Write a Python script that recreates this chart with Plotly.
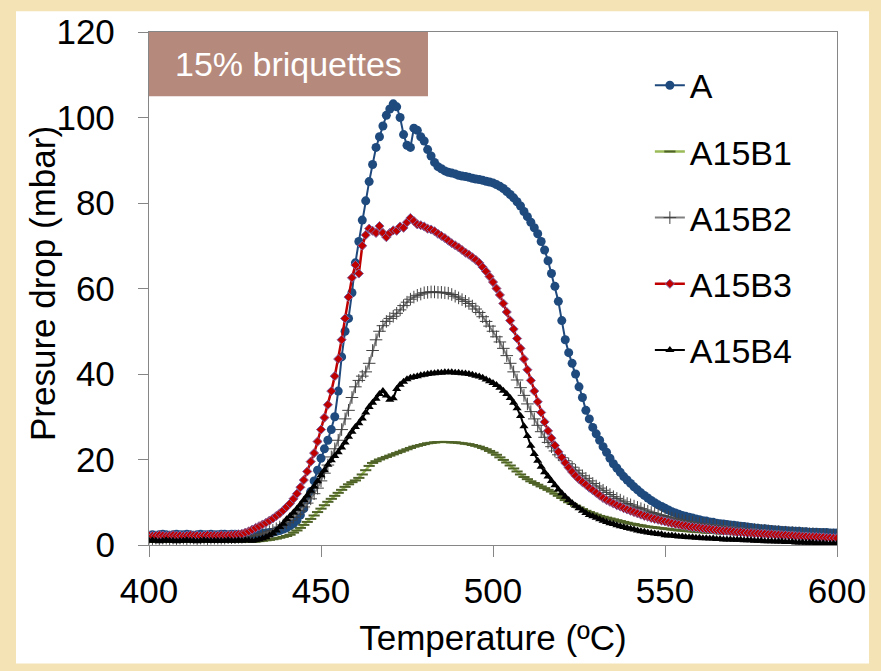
import plotly.graph_objects as go

temperature = list(range(400, 601))

A = [
    2.3, 2.4, 2.3, 2.4, 2.5, 2.4, 2.3, 2.4, 2.5, 2.4,
    2.4, 2.5, 2.4, 2.3, 2.4, 2.5, 2.4, 2.4, 2.5, 2.4,
    2.4, 2.5, 2.5, 2.4, 2.5, 2.5, 2.4, 2.5, 2.5, 2.5,
    2.5, 2.6, 2.6, 2.7, 2.8, 2.9, 3.0, 3.2, 3.4, 3.7,
    4.0, 4.5, 5.0, 5.8, 7.0, 8.5, 10.5, 12.5, 15.0, 17.5,
    20.3, 22.5, 24.5, 27.0, 30.0, 36.0, 44.0, 50.0, 53.0, 59.0,
    66.0, 71.0, 76.0, 80.5, 85.0, 89.0, 93.0, 95.5, 98.0, 100.5,
    102.0, 103.2, 102.5, 100.0, 96.0, 93.5, 93.0, 97.5, 97.0, 95.5,
    94.5, 92.5, 91.0, 89.5, 88.5, 88.0, 87.5, 87.2, 87.0, 86.8,
    86.5, 86.3, 86.2, 86.0, 85.8, 85.6, 85.5, 85.3, 85.1, 84.9,
    84.7, 84.3, 83.9, 83.4, 82.7, 82.0, 81.2, 80.3, 79.3, 78.0,
    76.8, 75.5, 74.2, 72.8, 71.0, 69.0, 66.5, 63.5, 60.5, 57.0,
    52.5, 48.0, 45.0, 42.5, 40.0, 37.0, 34.5, 31.5, 29.5, 27.5,
    26.0, 24.5, 23.0, 21.7, 20.3, 19.0, 18.0, 17.0, 16.0, 15.2,
    14.4, 13.6, 12.9, 12.2, 11.6, 11.0, 10.4, 9.9, 9.4, 9.0,
    8.6, 8.2, 7.8, 7.5, 7.2, 6.9, 6.7, 6.5, 6.3, 6.1,
    5.9, 5.7, 5.6, 5.4, 5.3, 5.1, 5.0, 4.9, 4.8, 4.7,
    4.6, 4.5, 4.4, 4.3, 4.2, 4.1, 4.0, 3.9, 3.8, 3.8,
    3.7, 3.6, 3.5, 3.5, 3.4, 3.4, 3.3, 3.3, 3.2, 3.2,
    3.1, 3.1, 3.0, 3.0, 3.0, 2.9, 2.9, 2.9, 2.8, 2.8,
    2.8,
]

A15B1 = [
    0.8, 0.9, 0.8, 0.8, 0.9, 0.8, 0.8, 0.9, 0.8, 0.8,
    0.9, 0.8, 0.8, 0.9, 0.8, 0.8, 0.9, 0.8, 0.8, 0.9,
    0.8, 0.8, 0.9, 0.8, 0.8, 0.9, 0.8, 0.8, 0.9, 0.8,
    0.8, 0.85, 0.9, 1.0, 1.1, 1.2, 1.35, 1.5, 1.7, 1.9,
    2.1, 2.4, 2.9, 3.4, 4.0, 4.7, 5.4, 6.1, 6.9, 7.7,
    8.5, 9.3, 10.1, 10.8, 11.5, 12.2, 12.9, 13.6, 14.2, 14.7,
    15.1, 15.7, 16.5, 17.5, 18.5, 19.2, 19.6, 20.0, 20.3, 20.6,
    20.9, 21.2, 21.5, 21.8, 22.1, 22.4, 22.7, 23.0, 23.2, 23.4,
    23.6, 23.8, 23.9, 24.0, 24.1, 24.1, 24.1, 24.1, 24.0, 24.0,
    23.9, 23.8, 23.7, 23.6, 23.4, 23.2, 23.0, 22.7, 22.4, 22.0,
    21.6, 21.1, 20.5, 19.9, 19.3, 18.6, 17.9, 17.2, 16.5, 15.9,
    15.4, 14.9, 14.5, 14.1, 13.7, 13.3, 12.9, 12.5, 12.0, 11.5,
    11.0, 10.5, 10.0, 9.6, 9.2, 8.8, 8.4, 8.0, 7.7, 7.4,
    7.1, 6.8, 6.6, 6.4, 6.2, 6.0, 5.8, 5.6, 5.4, 5.2,
    5.0, 4.9, 4.7, 4.6, 4.4, 4.3, 4.2, 4.1, 4.0, 3.9,
    3.8, 3.7, 3.6, 3.5, 3.4, 3.4, 3.3, 3.2, 3.2, 3.1,
    3.0, 3.0, 2.9, 2.9, 2.8, 2.8, 2.7, 2.7, 2.6, 2.6,
    2.6, 2.5, 2.5, 2.5, 2.4, 2.4, 2.4, 2.3, 2.3, 2.3,
    2.3, 2.2, 2.2, 2.2, 2.2, 2.1, 2.1, 2.1, 2.1, 2.1,
    2.0, 2.0, 2.0, 2.0, 2.0, 1.9, 1.9, 1.9, 1.9, 1.9,
    1.9,
]

A15B2 = [
    1.6, 1.5, 1.6, 1.5, 1.6, 1.6, 1.5, 1.6, 1.5, 1.6,
    1.6, 1.5, 1.6, 1.6, 1.5, 1.6, 1.6, 1.5, 1.6, 1.6,
    1.6, 1.6, 1.6, 1.7, 1.7, 1.7, 1.8, 1.8, 1.9, 2.0,
    2.1, 2.2, 2.4, 2.6, 2.8, 3.1, 3.4, 3.8, 4.2, 4.7,
    5.2, 5.8, 6.5, 7.2, 8.0, 8.9, 9.8, 10.8, 12.0, 13.3,
    15.0, 16.8, 18.7, 20.6, 22.5, 24.5, 27.0, 29.5, 31.5, 34.5,
    37.0, 38.5, 39.5, 40.5, 42.5, 45.5, 48.0, 50.0, 51.3, 52.3,
    53.0, 53.5, 54.2, 55.0, 56.0, 56.8, 57.5, 58.0, 58.4, 58.7,
    59.0, 59.1, 59.2, 59.2, 59.1, 59.1, 59.0, 58.9, 58.6, 58.2,
    57.8, 57.4, 57.0, 56.5, 55.9, 55.2, 54.4, 53.4, 52.3, 51.2,
    50.0, 48.7, 47.5, 46.0, 44.3, 42.5, 40.5, 38.6, 36.8, 35.0,
    33.0, 31.2, 29.5, 28.0, 26.5, 25.2, 24.0, 23.0, 22.0, 21.1,
    20.4, 19.7, 19.0, 18.2, 17.5, 16.8, 16.2, 15.6, 15.0, 14.4,
    13.8, 13.3, 12.8, 12.3, 11.8, 11.3, 10.9, 10.5, 10.1, 9.7,
    9.4, 9.1, 8.8, 8.5, 8.2, 7.9, 7.6, 7.4, 7.1, 6.9,
    6.7, 6.5, 6.3, 6.1, 5.9, 5.7, 5.6, 5.4, 5.3, 5.1,
    5.0, 4.9, 4.8, 4.7, 4.6, 4.5, 4.4, 4.3, 4.2, 4.1,
    4.0, 3.9, 3.9, 3.8, 3.7, 3.6, 3.6, 3.5, 3.4, 3.4,
    3.3, 3.2, 3.2, 3.1, 3.0, 3.0, 2.9, 2.9, 2.8, 2.8,
    2.7, 2.7, 2.6, 2.6, 2.5, 2.5, 2.4, 2.4, 2.3, 2.3,
    2.2,
]

A15B3 = [
    2.2, 2.1, 2.2, 2.3, 2.2, 2.1, 2.2, 2.3, 2.2, 2.2,
    2.1, 2.2, 2.3, 2.2, 2.2, 2.1, 2.2, 2.3, 2.2, 2.2,
    2.2, 2.3, 2.2, 2.3, 2.3, 2.4, 2.5, 2.6, 2.9, 3.2,
    3.6, 4.0, 4.4, 4.8, 5.2, 5.7, 6.2, 6.8, 7.4, 8.1,
    8.9, 9.7, 10.8, 12.0, 13.5, 15.2, 17.2, 19.5, 21.5, 24.2,
    27.0, 29.8, 32.8, 36.0, 39.5, 43.5, 48.0, 53.0, 58.0, 62.5,
    65.5, 63.5, 70.0, 72.5, 74.0, 73.5, 73.0, 74.6, 73.0, 72.0,
    73.0, 73.6, 73.5, 74.5, 74.2, 75.5, 76.5, 75.8, 75.0, 74.8,
    74.5, 74.0, 73.8, 73.4, 72.8, 72.3, 71.8, 71.2, 70.6, 70.1,
    69.6, 69.0, 68.4, 67.9, 67.3, 66.7, 66.0, 65.0, 64.0, 62.8,
    61.5, 60.0, 58.5, 56.5, 54.5, 52.5, 50.5, 48.3, 46.0, 43.5,
    41.0, 38.5, 36.0, 33.5, 31.0, 28.8, 26.7, 25.0, 23.3, 21.8,
    20.5, 19.2, 18.1, 17.1, 16.2, 15.4, 14.7, 14.1, 13.4, 12.8,
    12.2, 11.6, 11.0, 10.5, 10.1, 9.7, 9.3, 9.0, 8.6, 8.3,
    8.0, 7.7, 7.4, 7.1, 6.8, 6.6, 6.3, 6.1, 5.9, 5.7,
    5.5, 5.3, 5.1, 4.9, 4.8, 4.6, 4.5, 4.3, 4.2, 4.1,
    4.0, 3.9, 3.8, 3.7, 3.6, 3.5, 3.4, 3.3, 3.3, 3.2,
    3.1, 3.0, 3.0, 2.9, 2.8, 2.8, 2.7, 2.7, 2.6, 2.6,
    2.5, 2.5, 2.4, 2.4, 2.3, 2.3, 2.2, 2.2, 2.1, 2.1,
    2.0, 2.0, 1.9, 1.9, 1.9, 1.8, 1.8, 1.7, 1.7, 1.6,
    1.6,
]

A15B4 = [
    1.0, 1.1, 1.0, 0.9, 1.0, 1.1, 1.0, 1.0, 0.9, 1.0,
    1.0, 1.1, 1.0, 1.0, 0.9, 1.0, 1.1, 1.0, 1.0, 1.0,
    1.0, 1.0, 1.0, 1.1, 1.0, 1.0, 1.1, 1.0, 1.1, 1.1,
    1.0, 1.1, 1.3, 1.5, 1.8, 2.2, 2.7, 3.4, 4.2, 5.0,
    6.0, 6.8, 7.6, 8.5, 9.5, 10.5, 11.6, 12.7, 13.7, 14.9,
    16.3, 17.5, 18.8, 19.8, 20.8, 21.7, 22.8, 24.0, 25.3, 26.5,
    27.6, 28.5, 29.6, 31.0, 32.3, 33.3, 34.2, 35.3, 36.0, 35.0,
    34.0, 34.3, 36.5, 37.5, 38.2, 38.8, 39.1, 39.3, 39.5, 39.7,
    39.8, 40.0, 40.1, 40.2, 40.3, 40.3, 40.4, 40.4, 40.4, 40.3,
    40.3, 40.2, 40.1, 40.0, 39.8, 39.6, 39.4, 39.1, 38.7, 38.3,
    37.9, 37.4, 36.8, 36.1, 35.3, 34.4, 33.3, 32.0, 30.2, 27.8,
    25.5, 23.2, 21.3, 19.7, 18.3, 17.0, 16.0, 15.0, 14.0, 13.0,
    12.1, 11.3, 10.5, 9.8, 9.2, 8.6, 8.0, 7.5, 7.0, 6.7,
    6.4, 6.0, 5.7, 5.4, 5.1, 4.9, 4.6, 4.4, 4.2, 4.0,
    3.8, 3.6, 3.4, 3.2, 3.1, 2.9, 2.8, 2.7, 2.6, 2.5,
    2.3, 2.2, 2.2, 2.1, 2.0, 2.0, 1.9, 1.8, 1.8, 1.7,
    1.7, 1.6, 1.6, 1.5, 1.5, 1.4, 1.4, 1.3, 1.3, 1.3,
    1.2, 1.2, 1.2, 1.1, 1.1, 1.1, 1.0, 1.0, 1.0, 0.9,
    0.9, 0.9, 0.8, 0.8, 0.8, 0.7, 0.7, 0.7, 0.6, 0.6,
    0.6, 0.5, 0.5, 0.5, 0.4, 0.4, 0.4, 0.3, 0.3, 0.3,
    0.3,
]

series_names = ["A", "A15B1", "A15B2", "A15B3", "A15B4"]
series_values = [A, A15B1, A15B2, A15B3, A15B4]

styles = {
    "A": dict(line=dict(color="#1F497D", width=2),
              marker=dict(symbol="circle", size=9, color="#1F4A7E")),
    "A15B1": dict(line=dict(color="#9BBB59", width=2.5),
                  marker=dict(symbol="line-ew", size=8,
                              line=dict(color="#4F6228", width=2))),
    "A15B2": dict(line=dict(color="#808080", width=2),
                  marker=dict(symbol="cross-thin", size=9,
                              line=dict(color="#404040", width=1))),
    "A15B3": dict(line=dict(color="#C00000", width=2.5),
                  marker=dict(symbol="diamond", size=7, color="#C00000",
                              line=dict(color="#8064A2", width=1))),
    "A15B4": dict(line=dict(color="#000000", width=2),
                  marker=dict(symbol="triangle-up", size=8, color="#000000")),
}

FONT = "Liberation Sans, Arial, sans-serif"

fig = go.Figure()
for name, vals in zip(series_names, series_values):
    st = styles[name]
    fig.add_trace(go.Scatter(
        x=temperature, y=vals, name=name, mode="lines+markers",
        line=st["line"], marker=st["marker"], legendgroup=name,
    ))

# white panel on beige page
fig.add_shape(type="rect", xref="paper", yref="paper",
              x0=-0.1933, x1=1.0465, y0=-0.2312, y1=1.0405,
              fillcolor="white", line=dict(width=0), layer="below")
# label box
fig.add_shape(type="rect", xref="paper", yref="paper",
              x0=0, x1=0.4055, y0=0.8748, y1=1.0,
              fillcolor="#B5897C", line=dict(width=0), layer="above")
fig.add_annotation(text="15% briquettes", xref="paper", yref="paper",
                   x=0.2027, y=0.9374, showarrow=False,
                   font=dict(family=FONT, size=34, color="white"),
                   xanchor="center", yanchor="middle")
# y-axis title
fig.add_annotation(text="Presure drop (mbar)", xref="paper", yref="paper",
                   x=-0.1555, y=0.5087, showarrow=False, textangle=-90,
                   font=dict(family=FONT, size=35, color="black"),
                   xanchor="center", yanchor="middle")

axis_common = dict(
    showgrid=False, zeroline=False, showline=True, linecolor="#868686",
    linewidth=1.3, mirror=True, ticks="outside", tickcolor="#868686",
    tickwidth=1.3, tickfont=dict(family=FONT, size=35, color="black"),
)

fig.update_xaxes(range=[400, 600], tickvals=[400, 450, 500, 550, 600],
                 ticklen=11, ticklabelstandoff=4,
                 title=dict(text="Temperature (ºC)", standoff=16,
                            font=dict(family=FONT, size=35, color="black")),
                 **axis_common)
fig.update_yaxes(range=[0, 120], tickvals=[0, 20, 40, 60, 80, 100, 120],
                 ticklen=10, ticklabelstandoff=16,
                 **axis_common)

fig.update_layout(
    width=881, height=671,
    margin=dict(l=149, r=44, t=26, b=126),
    paper_bgcolor="#F4E3B4", plot_bgcolor="white",
    showlegend=True,
    legend=dict(x=0.728, y=0.952, xanchor="left", yanchor="top",
                bgcolor="rgba(0,0,0,0)", traceorder="grouped",
                tracegroupgap=19, itemwidth=30,
                font=dict(family=FONT, size=34, color="black")),
)

fig.write_html("out.html")
